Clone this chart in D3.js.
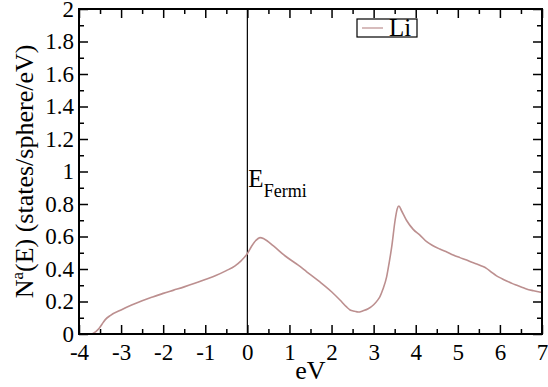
<!DOCTYPE html>
<html lang="en">
	<head>
		<meta charset="UTF-8" />
		<script src="https://d3js.org/d3.v7.min.js"></script>
		<title>DOS Li</title>
		<style>
			body { margin: 0; background: #fff; }
			svg text { font-family: "Liberation Serif", "DejaVu Serif", serif; }
		</style>
	</head>
	<body>
		<svg width="548" height="387"></svg>
		<script>
			// energy (eV) and N^a(E)
			const energy = [-4, -3.72, -3.6, -3.52, -3.45, -3.37, -3.25, -3.0, -2.75, -2.5, -2.25, -2.0, -1.75, -1.5, -1.25, -1.0, -0.75, -0.5, -0.3, -0.15, 0, 0.1, 0.2, 0.3, 0.4, 0.62, 0.9, 1.2, 1.41, 1.7, 2.0, 2.2, 2.35, 2.44, 2.55, 2.63, 2.75, 2.87, 3.0, 3.1, 3.15, 3.22, 3.31, 3.37, 3.43, 3.51, 3.56, 3.6, 3.66, 3.78, 3.94, 4.1, 4.26, 4.4, 4.57, 4.75, 4.89, 5.05, 5.21, 5.35, 5.45, 5.55, 5.68, 5.8, 5.92, 6.05, 6.16, 6.3, 6.4, 6.52, 6.63, 6.8, 7.0];
			const dosLi = [0, 0, 0.015, 0.035, 0.062, 0.09, 0.115, 0.148, 0.178, 0.205, 0.228, 0.25, 0.27, 0.29, 0.312, 0.336, 0.36, 0.39, 0.418, 0.45, 0.495, 0.54, 0.575, 0.593, 0.585, 0.542, 0.48, 0.425, 0.383, 0.325, 0.26, 0.209, 0.168, 0.148, 0.14, 0.135, 0.143, 0.155, 0.18, 0.21, 0.23, 0.275, 0.353, 0.44, 0.537, 0.7, 0.77, 0.788, 0.76, 0.7, 0.644, 0.609, 0.568, 0.545, 0.523, 0.503, 0.486, 0.47, 0.455, 0.44, 0.431, 0.42, 0.404, 0.38, 0.358, 0.34, 0.326, 0.31, 0.3, 0.288, 0.277, 0.266, 0.255];
			const xTicks = [-4, -3, -2, -1, 0, 1, 2, 3, 4, 5, 6, 7];
			const yTicks = [0, 0.2, 0.4, 0.6, 0.8, 1, 1.2, 1.4, 1.6, 1.8, 2];
			const fermiEnergy = 0;

			const FONT = "Liberation Serif";
			const margin = { top: 9, right: 6, bottom: 53, left: 79 };
			const W = 548, H = 387;
			const w = W - margin.left - margin.right;
			const h = H - margin.top - margin.bottom;

			const svg = d3.select("svg");
			const g = svg.append("g").attr("transform", `translate(${margin.left},${margin.top})`);

			const x = d3.scaleLinear().domain([-4, 7]).range([0, w]);
			const y = d3.scaleLinear().domain([0, 2]).range([h, 0]);

			const xMinor = d3.range(-3.5, 7, 1);
			const yMinor = d3.range(0.1, 2, 0.2);

			function styleAxis(sel) {
				sel.attr("font-family", FONT).attr("font-size", 23);
				sel.select(".domain").remove();
				sel.selectAll("line").attr("stroke", "#000").attr("stroke-width", 1.5);
				sel.selectAll("text").style("font-family", FONT).attr("fill", "#000");
			}

			const fmt = d => String(+d.toFixed(1));

			// major + minor ticks, inward, on all four sides
			g.append("g").attr("transform", `translate(0,${h})`)
				.call(d3.axisBottom(x).tickValues(xTicks).tickSize(-9).tickPadding(10).tickFormat(fmt))
				.call(styleAxis);
			g.append("g").attr("transform", `translate(0,${h})`)
				.call(d3.axisBottom(x).tickValues(xMinor).tickSize(-5).tickFormat(""))
				.call(styleAxis);
			g.append("g")
				.call(d3.axisTop(x).tickValues(xTicks).tickSize(-9).tickFormat(""))
				.call(styleAxis);
			g.append("g")
				.call(d3.axisTop(x).tickValues(xMinor).tickSize(-5).tickFormat(""))
				.call(styleAxis);
			g.append("g")
				.call(d3.axisLeft(y).tickValues(yTicks).tickSize(-9).tickPadding(5).tickFormat(fmt))
				.call(styleAxis);
			g.append("g")
				.call(d3.axisLeft(y).tickValues(yMinor).tickSize(-5).tickFormat(""))
				.call(styleAxis);
			g.append("g").attr("transform", `translate(${w},0)`)
				.call(d3.axisRight(y).tickValues(yTicks).tickSize(-9).tickFormat(""))
				.call(styleAxis);
			g.append("g").attr("transform", `translate(${w},0)`)
				.call(d3.axisRight(y).tickValues(yMinor).tickSize(-5).tickFormat(""))
				.call(styleAxis);

			// Fermi level line
			g.append("line")
				.attr("x1", x(fermiEnergy)).attr("x2", x(fermiEnergy))
				.attr("y1", 0).attr("y2", h)
				.attr("stroke", "#000").attr("stroke-width", 1.2);

			const efLabel = g.append("text")
				.attr("x", x(fermiEnergy) + 1)
				.attr("y", y(0.9) - 1)
				.style("font-family", FONT)
				.attr("font-size", 25);
			efLabel.append("tspan").text("E");
			efLabel.append("tspan").attr("dy", 10).attr("font-size", 18).text("Fermi");

			// DOS curve
			const pts = energy.map((e, i) => [e, dosLi[i]]);
			g.append("path")
				.datum(pts)
				.attr("fill", "none")
				.attr("stroke", "#bc8f8f")
				.attr("stroke-width", 1.6)
				.attr("d", d3.line().x(d => x(d[0])).y(d => y(d[1])).curve(d3.curveMonotoneX));

			// frame
			g.append("rect")
				.attr("width", w).attr("height", h)
				.attr("fill", "none").attr("stroke", "#000").attr("stroke-width", 2);

			// legend
			const lg = svg.append("g").attr("transform", "translate(357,19)");
			lg.append("rect").attr("width", 60).attr("height", 18)
				.attr("fill", "#fff").attr("stroke", "#000").attr("stroke-width", 1.2);
			lg.append("line").attr("x1", 5).attr("x2", 26).attr("y1", 9).attr("y2", 9)
				.attr("stroke", "#bc8f8f").attr("stroke-width", 1.2);
			lg.append("text").attr("x", 32).attr("y", 17)
				.style("font-family", FONT).attr("font-size", 25).text("Li");

			// axis labels
			svg.append("text")
				.attr("x", margin.left + x(1.5)).attr("y", 379)
				.attr("text-anchor", "middle")
				.style("font-family", FONT).attr("font-size", 26).text("eV");

			const yl = svg.append("text")
				.attr("transform", `translate(33,${margin.top + h / 2}) rotate(-90)`)
				.attr("text-anchor", "middle")
				.style("font-family", FONT).attr("font-size", 26);
			yl.append("tspan").text("N");
			yl.append("tspan").attr("dy", -10).attr("font-size", 17).text("a");
			yl.append("tspan").attr("dy", 10).text("(E) (states/sphere/eV)");
		</script>
	</body>
</html>
